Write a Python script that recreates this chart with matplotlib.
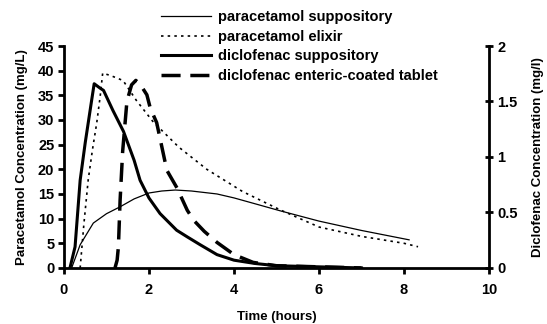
import matplotlib
matplotlib.use("Agg")
import matplotlib.pyplot as plt

plt.rcParams['font.family'] = ['Liberation Sans', 'DejaVu Sans']
plt.rcParams['font.weight'] = 'bold'

# paracetamol (left axis, mg/L)
para_supp_t = [0.18, 0.38, 0.69, 1.0, 1.32, 1.65, 2.0, 2.3, 2.62, 3.0, 3.6, 4.0, 4.5, 5.08, 6.0, 7.0, 8.12]
para_supp_c = [0, 4.7, 9.1, 11.0, 12.4, 14.0, 15.2, 15.6, 15.8, 15.6, 15.0, 14.2, 13.0, 11.6, 9.5, 7.6, 5.7]

para_elix_t = [0.38, 0.47, 0.57, 0.67, 0.77, 0.85, 0.91, 1.1, 1.39, 1.7, 2.1, 2.7, 3.36, 4.2, 5.08, 6.0, 7.0, 8.0, 8.33]
para_elix_c = [0, 9.1, 17.9, 24.0, 29.4, 34.7, 39.5, 39.0, 38.0, 34.0, 29.6, 24.5, 20.0, 15.5, 11.8, 8.3, 6.4, 5.0, 4.3]

# diclofenac (right axis, mg/l)
dicl_supp_t = [0.14, 0.26, 0.38, 0.5, 0.65, 0.71, 0.85, 0.93, 1.15, 1.4, 1.65, 1.79, 2.0, 2.26, 2.65, 2.9, 3.2, 3.6, 4.0, 4.5, 5.0, 6.0, 7.0]
dicl_supp_c = [0, 0.19, 0.79, 1.13, 1.51, 1.66, 1.62, 1.60, 1.42, 1.23, 0.97, 0.79, 0.63, 0.49, 0.34, 0.28, 0.21, 0.12, 0.07, 0.04, 0.02, 0.01, 0.0]

dicl_tab_t = [1.2, 1.25, 1.28, 1.32, 1.38, 1.48, 1.59, 1.69, 1.8, 1.95, 2.03, 2.18, 2.42, 2.66, 2.9, 3.05, 3.3, 3.6, 4.0, 4.45, 5.0, 6.0, 7.0]
dicl_tab_c = [0, 0.07, 0.19, 0.61, 1.05, 1.50, 1.65, 1.69, 1.65, 1.56, 1.44, 1.31, 0.88, 0.72, 0.52, 0.43, 0.33, 0.23, 0.12, 0.05, 0.02, 0.01, 0.0]

left_ticks = [0, 5, 10, 15, 20, 25, 30, 35, 40, 45]
right_ticks = [0, 0.5, 1, 1.5, 2]
right_labels = ["0", "0.5", "1", "1.5", "2"]
x_ticks = [0, 2, 4, 6, 8, 10]

fig = plt.figure(figsize=(5.47, 3.24), dpi=100)
ax = fig.add_axes([0.117, 0.173, 0.777, 0.685])
ax2 = ax.twinx()

l1, = ax.plot(para_supp_t, para_supp_c, color='black', lw=0.9, label='paracetamol suppository')
l2, = ax.plot(para_elix_t, para_elix_c, color='black', lw=1.2, ls=(0, (1.5, 2.5)), label='paracetamol elixir')
l3, = ax2.plot(dicl_supp_t, dicl_supp_c, color='black', lw=2.2, label='diclofenac suppository')
l4, = ax2.plot(dicl_tab_t, dicl_tab_c, color='black', lw=2.5, ls=(0, (5.5, 2.8)), label='diclofenac enteric-coated tablet')

ax.set_xlim(0, 10)
ax.set_ylim(0, 45)
ax2.set_ylim(0, 2)
ax.set_xticks(x_ticks)
ax.set_yticks(left_ticks)
ax2.set_yticks(right_ticks)
ax2.set_yticklabels(right_labels)

for a in (ax, ax2):
    a.spines['top'].set_visible(False)
    for s in a.spines.values():
        s.set_linewidth(2)
ax.spines['right'].set_visible(False)
ax2.spines['left'].set_visible(False)
ax2.spines['bottom'].set_visible(False)

ax.tick_params(axis='both', direction='out', length=4, width=2, labelsize=10.5, pad=3)
ax.tick_params(axis='x', pad=7)
ax2.tick_params(axis='y', direction='inout', length=6, width=2, labelsize=10.5, pad=3)
for lab in ax.get_xticklabels() + ax.get_yticklabels() + ax2.get_yticklabels():
    lab.set_fontweight('bold')

ax.set_xlabel('Time (hours)', fontsize=9.5, fontweight='bold', labelpad=10)
ax.set_ylabel('Paracetamol Concentration (mg/L)', fontsize=9.5, fontweight='bold', labelpad=7)
ax2.set_ylabel('Diclofenac Concentration (mg/l)', fontsize=9.5, fontweight='bold', labelpad=10)

fig.legend(handles=[l1, l2, l3, l4], loc='upper left', bbox_to_anchor=(0.279, 0.995),
           frameon=False, prop={'size': 10.5, 'weight': 'bold'}, handlelength=3.4,
           handletextpad=0.45, labelspacing=0.38, borderaxespad=0.2)

fig.savefig('out.png', dpi=100)
